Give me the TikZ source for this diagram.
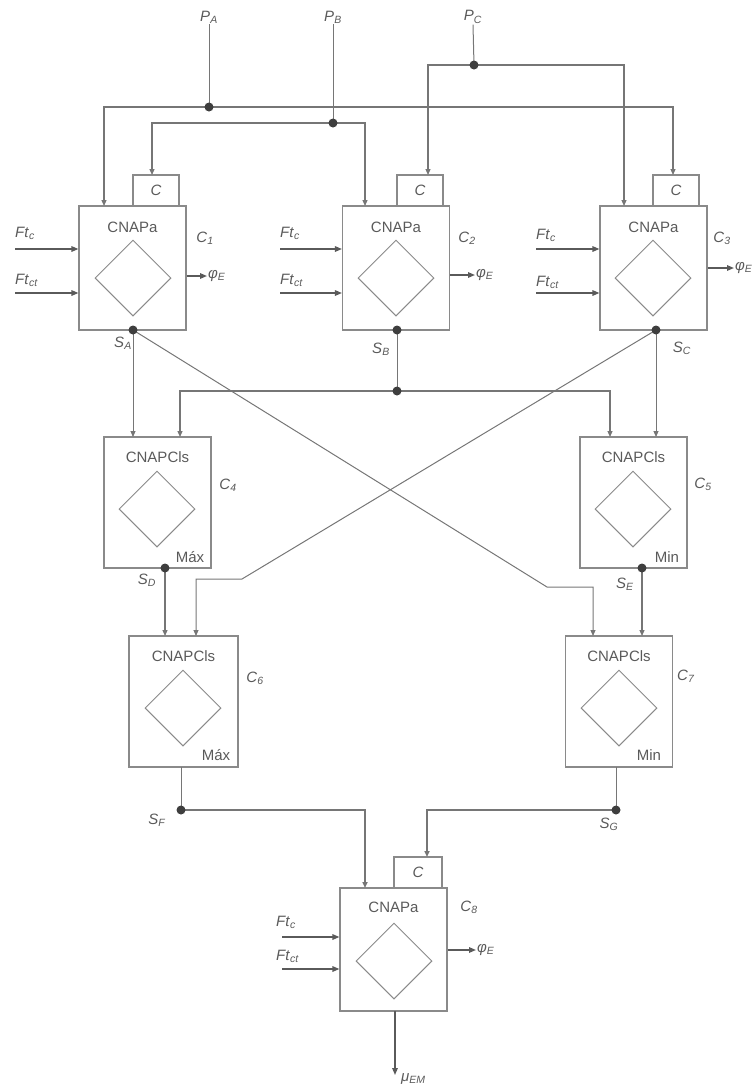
\documentclass[tikz,border=0pt]{standalone}
\usepackage{fontspec}
\setmainfont{Liberation Sans}
\usetikzlibrary{arrows.meta,shapes.geometric}
\definecolor{ln}{HTML}{767676}
\definecolor{bx}{HTML}{8A8A8A}
\definecolor{tx}{HTML}{5A5A5A}
\definecolor{dt}{HTML}{3E3E3E}
\newcommand\slab[2]{\textit{#1}\textsubscript{\textit{#2}}}
\begin{document}
\begin{tikzpicture}[x=1pt,y=-1pt,
 box/.style={draw=bx, line width=1.1pt, minimum width=107pt, minimum height=124pt, inner sep=0pt},
 cbox/.style={draw=bx, line width=1.1pt, minimum width=46pt, minimum height=31pt, inner sep=0pt, text=tx, font=\fontsize{15}{18}\selectfont\itshape},
 dia/.style={draw=bx, line width=1pt, diamond, minimum width=76pt, minimum height=76pt, inner sep=0pt},
 wire/.style={draw=ln, line width=1.2pt},
 thin/.style={draw=ln, line width=1pt},
 arr/.style={wire, -{Triangle[length=6pt,width=5pt]}},
 tarr/.style={thin, -{Triangle[length=6pt,width=5pt]}},
 inarr/.style={draw=tx, line width=1.5pt, -{Triangle[length=7pt,width=5.5pt]}},
 dot/.style={circle, fill=dt, minimum size=9pt, inner sep=0pt},
 lab/.style={text=tx, font=\fontsize{15}{18}\selectfont, inner sep=1pt},
 btxt/.style={text=tx, font=\fontsize{15}{18}\selectfont, inner sep=0pt},
]
\path[use as bounding box] (0,0) rectangle (752,1088);
\clip (0,0) rectangle (752,1088);

% boxes
\node[box] (b1) at (132.5,268) {};
\node[box] (b2) at (396,268) {};
\node[box] (b3) at (653.5,268) {};
\node[cbox] (c1) at (156,190.5) {C};
\node[cbox] (c2) at (420,190.5) {C};
\node[cbox] (c3) at (676,190.5) {C};
\node[box, minimum height=131pt] (b4) at (157.5,502.5) {};
\node[box, minimum height=131pt] (b5) at (633.5,502.5) {};
\node[box, minimum height=131pt, minimum width=109pt] (b6) at (183.5,701.5) {};
\node[box, minimum height=131pt] (b7) at (619,701.5) {};
\node[box, minimum height=123pt] (b8) at (393.5,949.5) {};
\node[cbox, minimum width=48pt] (c8) at (418,872.5) {C};

% diamonds
\node[dia] (d1) at (133,278) {};
\node[dia] (d2) at (396,278) {};
\node[dia] (d3) at (653,278) {};
\node[dia] (d4) at (157,509) {};
\node[dia] (d5) at (633,509) {};
\node[dia] (d6) at (183,708) {};
\node[dia] (d7) at (619,708) {};
\node[dia] (d8) at (394,961) {};

% box texts
\node[btxt] (t1) at (132.5,227) {CNAPa};
\node[btxt] (t2) at (396,227) {CNAPa};
\node[btxt] (t3) at (653.5,227) {CNAPa};
\node[btxt] (t4) at (157.5,457) {CNAPCls};
\node[btxt] (t5) at (633.5,457) {CNAPCls};
\node[btxt] (t6) at (183.5,656) {CNAPCls};
\node[btxt] (t7) at (619,656) {CNAPCls};
\node[btxt] (t8) at (393.5,907) {CNAPa};
\node[btxt] (m4) at (190,557) {Máx};
\node[btxt] (m5) at (667,557) {Min};
\node[btxt] (m6) at (216,755) {Máx};
\node[btxt] (m7) at (649,755) {Min};

% cell labels
\node[lab] (C1) at (205,238) {\slab{C}{1}};
\node[lab] (C2) at (467,238) {\slab{C}{2}};
\node[lab] (C3) at (722,238) {\slab{C}{3}};
\node[lab] (C4) at (228,485) {\slab{C}{4}};
\node[lab] (C5) at (703,484) {\slab{C}{5}};
\node[lab] (C6) at (255,678) {\slab{C}{6}};
\node[lab] (C7) at (686,676) {\slab{C}{7}};
\node[lab] (C8) at (469,907) {\slab{C}{8}};

% P labels
\node[lab] (PA) at (209,17) {\slab{P}{A}};
\node[lab] (PB) at (333,17) {\slab{P}{B}};
\node[lab] (PC) at (473,17) {\slab{P}{C}};

% S labels
\node[lab] (LSA) at (123,343) {\slab{S}{A}};
\node[lab] (LSB) at (381,349) {\slab{S}{B}};
\node[lab] (LSC) at (682,348) {\slab{S}{C}};
\node[lab] (LSD) at (147,580) {\slab{S}{D}};
\node[lab] (LSE) at (625,584) {\slab{S}{E}};
\node[lab] (LSF) at (157,820) {\slab{S}{F}};
\node[lab] (LSG) at (609,824) {\slab{S}{G}};

% input labels
\node[lab, anchor=west] (f1a) at (14,233) {\slab{Ft}{c}};
\node[lab, anchor=west] (f1b) at (14,280) {\slab{Ft}{ct}};
\node[lab, anchor=west] (f2a) at (279,233) {\slab{Ft}{c}};
\node[lab, anchor=west] (f2b) at (279,280) {\slab{Ft}{ct}};
\node[lab, anchor=west] (f3a) at (535,235) {\slab{Ft}{c}};
\node[lab, anchor=west] (f3b) at (535,282) {\slab{Ft}{ct}};
\node[lab, anchor=west] (f8a) at (275,922) {\slab{Ft}{c}};
\node[lab, anchor=west] (f8b) at (275,956) {\slab{Ft}{ct}};

% output labels
\node[lab, anchor=west] (o1) at (207,276) {\slab{φ}{E}};
\node[lab, anchor=west] (o2) at (475,275) {\slab{φ}{E}};
\node[lab, anchor=west] (o3) at (734,268) {\slab{φ}{E}};
\node[lab, anchor=west] (o8) at (476,950) {\slab{φ}{E}};
\node[lab, anchor=west] (mu) at (400,1079) {\slab{μ}{EM}};

% coordinates
\coordinate (JA) at (209,107);
\coordinate (JB) at (333,123);
\coordinate (JC) at (474,65);
\coordinate (SA) at (133,330);
\coordinate (SB) at (397,330);
\coordinate (SC) at (656,330);
\coordinate (JM) at (397,391);
\coordinate (SD) at (165,568);
\coordinate (SE) at (642,568);
\coordinate (SF) at (181,810);
\coordinate (SG) at (616,810);
\coordinate (a1) at (104,206);
\coordinate (a2) at (673,175);
\coordinate (a3) at (152,175);
\coordinate (a4) at (365,206);
\coordinate (a5) at (428,175);
\coordinate (a6) at (624,206);
\coordinate (a7) at (133,437);
\coordinate (a8) at (180,437);
\coordinate (a9) at (610,437);
\coordinate (a10) at (656,437);
\coordinate (k1) at (547,587);
\coordinate (k2) at (593,587);
\coordinate (a11) at (593,636);
\coordinate (k3) at (242,579);
\coordinate (k4) at (196,579);
\coordinate (a12) at (196,636);
\coordinate (a13) at (165,636);
\coordinate (a14) at (642,636);
\coordinate (e6) at (181,767);
\coordinate (e7) at (616,767);
\coordinate (a15) at (365,888);
\coordinate (a16) at (427,857);
\coordinate (e8) at (395,1011);
\coordinate (a17) at (395,1075);

% top distribution
\draw[thin] (PA.south) -- (JA);
\draw[thin] (PB.south) -- (JB);
\draw[thin] (PC.south) -- (JC);
\draw[arr] (JA) -| (a1);
\draw[arr] (JA) -| (a2);
\draw[arr] (JB) -| (a3);
\draw[arr] (JB) -| (a4);
\draw[arr] (JC) -| (a5);
\draw[arr] (JC) -| (a6);

% middle
\draw[tarr] (SA) -- (a7);
\draw[thin] (SB) -- (JM);
\draw[arr] (JM) -| (a8);
\draw[arr] (JM) -| (a9);
\draw[tarr] (SC) -- (a10);
\draw[tarr] (SA) -- (k1) -- (k2) -- (a11);
\draw[tarr] (SC) -- (k3) -- (k4) -- (a12);
\draw[arr] (SD) -- (a13);
\draw[arr] (SE) -- (a14);

% bottom
\draw[thin] (e6) -- (SF);
\draw[thin] (e7) -- (SG);
\draw[arr, line width=1.5pt] (SF) -| (a15);
\draw[arr, line width=1.5pt] (SG) -| (a16);
\draw[inarr] (e8) -- (a17);

% inputs
\draw[inarr] (15,249) -- (b1.west |- 0,249);
\draw[inarr] (15,293) -- (b1.west |- 0,293);
\draw[inarr] (280,249) -- (b2.west |- 0,249);
\draw[inarr] (280,293) -- (b2.west |- 0,293);
\draw[inarr] (536,249) -- (b3.west |- 0,249);
\draw[inarr] (536,293) -- (b3.west |- 0,293);
\draw[inarr] (282,937) -- (b8.west |- 0,937);
\draw[inarr] (282,969) -- (b8.west |- 0,969);

% outputs
\draw[inarr] (b1.east |- 0,276) -- (o1.west);
\draw[inarr] (b2.east |- 0,275) -- (o2.west);
\draw[inarr] (b3.east |- 0,268) -- (o3.west);
\draw[inarr] (b8.east |- 0,950) -- (o8.west);

% dots
\node[dot] (dJA) at (JA) {};
\node[dot] (dJB) at (JB) {};
\node[dot] (dJC) at (JC) {};
\node[dot] (dSA) at (SA) {};
\node[dot] (dSB) at (SB) {};
\node[dot] (dSC) at (SC) {};
\node[dot] (dJM) at (JM) {};
\node[dot] (dSD) at (SD) {};
\node[dot] (dSE) at (SE) {};
\node[dot] (dSF) at (SF) {};
\node[dot] (dSG) at (SG) {};
\end{tikzpicture}
\end{document}
